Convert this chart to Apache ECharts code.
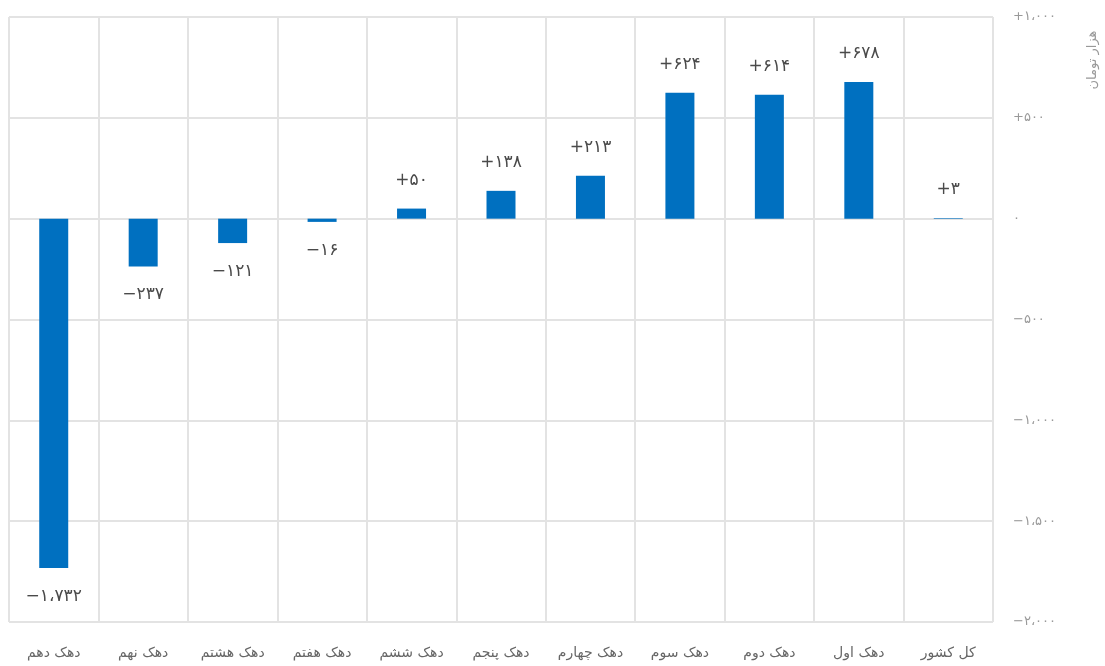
<!DOCTYPE html>
<html>
<head>
<meta charset="utf-8">
<script src="https://cdn.jsdelivr.net/npm/echarts@6/dist/echarts.min.js"></script>
<style>
  html, body { margin: 0; padding: 0; background: #fff; }
  #chart { width: 1105px; height: 666px; }
</style>
</head>
<body>
<div id="chart"></div>
<script>
const categories = ['دهک دهم', 'دهک نهم', 'دهک هشتم', 'دهک هفتم', 'دهک ششم', 'دهک پنجم', 'دهک چهارم', 'دهک سوم', 'دهک دوم', 'دهک اول', 'کل کشور']
const values = [-1732, -237, -121, -16, 50, 138, 213, 624, 614, 678, 3]
const yMin = -2000
const yMax = 1000
const yStep = 500

const faDigits = '۰۱۲۳۴۵۶۷۸۹'

// persian digits, arabic comma as thousands sep
function toFa(n, signed) {
  const abs = Math.abs(n).toString().replace(/\B(?=(\d{3})+(?!\d))/g, '،')
  const s = abs.replace(/\d/g, d => faDigits[d])
  if (n > 0 && signed) return '+' + s
  if (n < 0) return '−' + s
  return s
}

const chart = echarts.init(document.getElementById('chart'))

chart.setOption({
  animation: false,
  textStyle: {fontFamily: 'DejaVu Sans'},
  grid: {left: 9, right: 112, top: 17, bottom: 44},
  xAxis: {
    type: 'category',
    data: categories,
    axisLine: {show: false, onZero: false},
    axisTick: {show: false},
    axisLabel: {color: '#666', fontSize: 14, margin: 24, interval: 0},
    splitLine: {show: true, interval: 0, lineStyle: {color: '#e3e3e3', width: 2}}
  },
  yAxis: {
    type: 'value',
    position: 'right',
    min: yMin,
    max: yMax,
    interval: yStep,
    axisLine: {show: false},
    axisTick: {show: false},
    axisLabel: {
      color: '#999',
      fontSize: 13,
      margin: 20,
      align: 'left',
      formatter: v => toFa(v, true)
    },
    splitLine: {lineStyle: {color: '#e3e3e3', width: 2}}
  },
  graphic: [{
    type: 'text',
    x: 1093,
    y: 60,
    rotation: Math.PI / 2,
    style: {
      text: 'هزار تومان',
      fill: '#999',
      fontSize: 13,
      fontFamily: 'DejaVu Sans',
      align: 'center',
      verticalAlign: 'middle'
    }
  }],
  series: [{
    type: 'bar',
    barWidth: 29,
    itemStyle: {color: '#0070c0'},
    label: {
      show: true,
      distance: 20,
      color: '#4a4a4a',
      fontSize: 17,
      formatter: p => toFa(p.value, true)
    },
    data: values.map(v => ({value: v, label: {position: v < 0 ? 'bottom' : 'top'}}))
  }]
})
</script>
</body>
</html>
